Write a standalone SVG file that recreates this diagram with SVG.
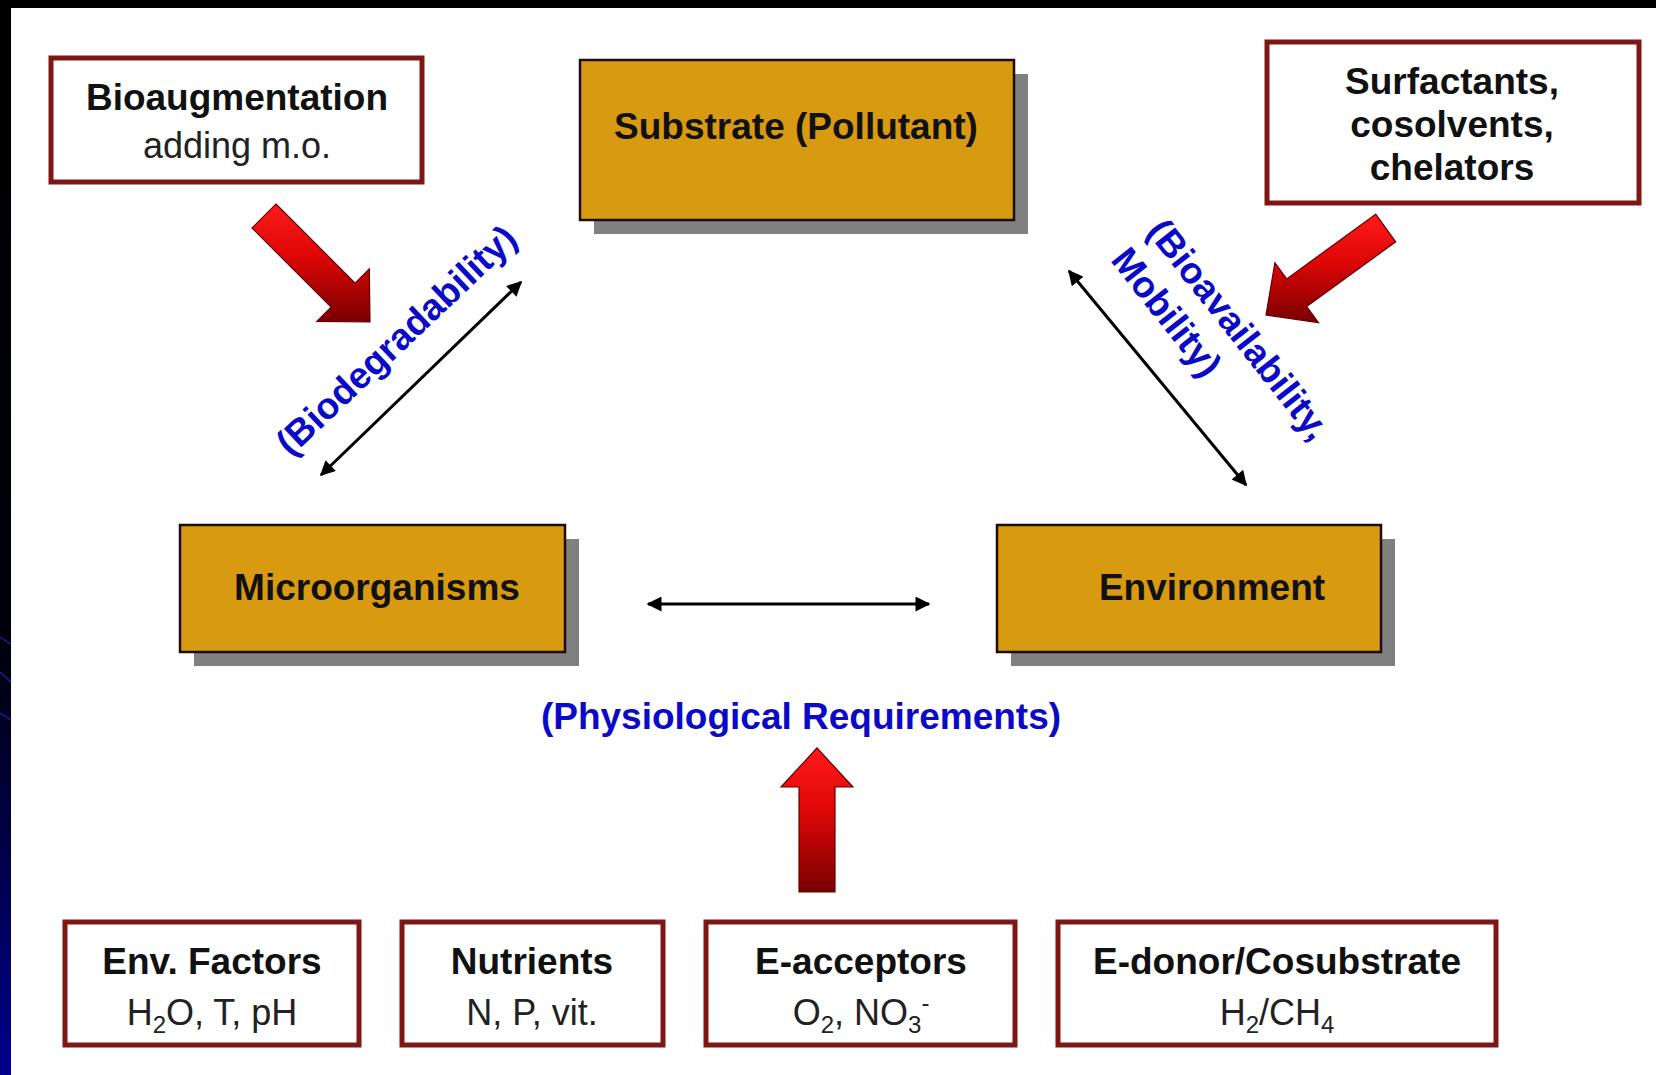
<svg xmlns="http://www.w3.org/2000/svg" width="1656" height="1075" viewBox="0 0 1656 1075">
  <style>
    .bold { font-family: "Liberation Sans", Arial, sans-serif; font-weight: bold; font-size: 37px; fill: #111; }
    .reg { font-family: "Liberation Sans", Arial, sans-serif; font-size: 36px; fill: #222; }
    .blue { font-family: "Liberation Sans", Arial, sans-serif; font-weight: bold; font-size: 37px; fill: #0a0ac8; }
    .obox { fill: #ffffff; stroke: #7e1616; stroke-width: 5; }
    .gbox { fill: #d89a10; stroke: #1e0c00; stroke-width: 2.5; }
    .shadow { fill: #808080; }
    .conn { stroke: #000; stroke-width: 3; fill: none; marker-start: url(#ah); marker-end: url(#ah); }
    .red { fill: url(#redg); stroke: #650000; stroke-width: 1.2; }
  </style>
  <defs>
    <linearGradient id="strip" x1="0" y1="0" x2="0" y2="1">
      <stop offset="0" stop-color="#000000"/>
      <stop offset="0.6" stop-color="#00000c"/>
      <stop offset="1" stop-color="#00008c"/>
    </linearGradient>
    <linearGradient id="redg" x1="0" y1="0" x2="0" y2="1">
      <stop offset="0" stop-color="#ff1a1a"/>
      <stop offset="0.45" stop-color="#dd0606"/>
      <stop offset="1" stop-color="#780000"/>
    </linearGradient>
    <marker id="ah" viewBox="0 0 10 10" refX="9" refY="5" markerWidth="5.5" markerHeight="5" orient="auto-start-reverse" markerUnits="strokeWidth">
      <path d="M0,0 L10,5 L0,10 z" fill="#000"/>
    </marker>
  </defs>

  <!-- background -->
  <rect x="0" y="0" width="1656" height="1075" fill="#ffffff"/>
  <rect x="0" y="0" width="1656" height="8" fill="#000"/>
  <rect x="0" y="0" width="11" height="1075" fill="url(#strip)"/>
  <g stroke="#20209a" stroke-width="1.3">
    <line x1="0" y1="637" x2="11" y2="644"/>
    <line x1="0" y1="672" x2="11" y2="682"/>
    <line x1="0" y1="713" x2="11" y2="720"/>
  </g>

  <!-- connectors -->
  <g id="connectors">
    <line class="conn" x1="321" y1="475" x2="521" y2="282"/>
    <line class="conn" x1="1069" y1="271" x2="1246" y2="485"/>
    <line class="conn" x1="648" y1="604" x2="929" y2="604"/>
    <polygon class="red" points="276,204 355.1,283.1 369.3,268.9 370,322 316.9,321.3 331.1,307.1 252,228"/>
    <polygon class="red" points="1375.7,214.2 1286.7,278.9 1274.9,262.8 1266,315 1318.5,322.6 1306.7,306.5 1395.7,241.8"/>
    <polygon class="red" points="799,892 799,787 781,787 817,748 853,787 835,787 835,892"/>
    <text class="blue" transform="translate(396,340) rotate(-43.4)" x="0" y="13" text-anchor="middle">(Biodegradability)</text>
    <g transform="translate(1145.8,231.7) rotate(51.7)">
      <text class="blue" x="0" y="0">(Bioavailability,</text>
      <text class="blue" x="0" y="46">Mobility)</text>
    </g>
    <text class="blue" x="801" y="729" text-anchor="middle">(Physiological Requirements)</text>
  </g>

  <!-- nodes -->
  <g id="bioaugmentation">
    <rect class="obox" x="51" y="58" width="371" height="124"/>
    <text class="bold" x="237" y="110" text-anchor="middle">Bioaugmentation</text>
    <text class="reg" x="237" y="158" text-anchor="middle">adding m.o.</text>
  </g>

  <g id="substrate">
    <rect class="shadow" x="594" y="74" width="434" height="160"/>
    <rect class="gbox" x="580" y="60" width="434" height="160"/>
    <text class="bold" x="796" y="139" text-anchor="middle">Substrate (Pollutant)</text>
  </g>

  <g id="surfactants">
    <rect class="obox" x="1267" y="42" width="372" height="161"/>
    <text class="bold" x="1452" y="94" text-anchor="middle">Surfactants,</text>
    <text class="bold" x="1452" y="137" text-anchor="middle">cosolvents,</text>
    <text class="bold" x="1452" y="180" text-anchor="middle">chelators</text>
  </g>

  <g id="microorganisms">
    <rect class="shadow" x="194" y="539" width="385" height="127"/>
    <rect class="gbox" x="180" y="525" width="385" height="127"/>
    <text class="bold" x="377" y="600" text-anchor="middle">Microorganisms</text>
  </g>

  <g id="environment">
    <rect class="shadow" x="1011" y="539" width="384" height="127"/>
    <rect class="gbox" x="997" y="525" width="384" height="127"/>
    <text class="bold" x="1212" y="600" text-anchor="middle">Environment</text>
  </g>

  <g id="env-factors">
    <rect class="obox" x="65" y="922" width="294" height="123"/>
    <text class="bold" x="212" y="974" text-anchor="middle">Env. Factors</text>
    <text class="reg" x="212" y="1025" text-anchor="middle">H<tspan font-size="24" dy="8">2</tspan><tspan dy="-8">O, T, pH</tspan></text>
  </g>

  <g id="nutrients">
    <rect class="obox" x="402" y="922" width="261" height="123"/>
    <text class="bold" x="532" y="974" text-anchor="middle">Nutrients</text>
    <text class="reg" x="532" y="1025" text-anchor="middle">N, P, vit.</text>
  </g>

  <g id="e-acceptors">
    <rect class="obox" x="706" y="922" width="309" height="123"/>
    <text class="bold" x="861" y="974" text-anchor="middle">E-acceptors</text>
    <text class="reg" x="861" y="1025" text-anchor="middle">O<tspan font-size="24" dy="8">2</tspan><tspan dy="-8">, NO</tspan><tspan font-size="24" dy="8">3</tspan><tspan font-size="24" dy="-22">-</tspan></text>
  </g>

  <g id="e-donor">
    <rect class="obox" x="1058" y="922" width="438" height="123"/>
    <text class="bold" x="1277" y="974" text-anchor="middle">E-donor/Cosubstrate</text>
    <text class="reg" x="1277" y="1025" text-anchor="middle">H<tspan font-size="24" dy="8">2</tspan><tspan dy="-8">/CH</tspan><tspan font-size="24" dy="8">4</tspan></text>
  </g>
</svg>
